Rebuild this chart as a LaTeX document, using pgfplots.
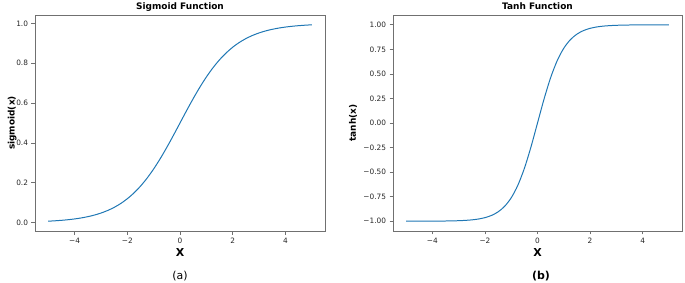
\documentclass[border=0pt]{standalone}
\usepackage{pgfplots}
\pgfplotsset{compat=1.18}
\usepackage{fontspec}
\setmainfont{DejaVu Sans}
\definecolor{mplblue}{HTML}{1F77B4}
\definecolor{framec}{HTML}{707070}
\pgfplotsset{
  every axis title/.style={font=\bfseries\fontsize{9}{10}\selectfont, at={(0.5,1)}, anchor=base, inner sep=0pt, yshift=5.3bp},
  mpl/.style={
    scale only axis,
    axis line style={framec, line width=0.8pt},
    tick style={framec, line width=0.7pt},
    tick align=outside,
    major tick length=3.5bp,
    xtick pos=bottom, ytick pos=left,
    ticklabel style={font=\fontsize{7.4}{8}\selectfont, text=black!85},
    xlabel style={font=\bfseries\fontsize{11}{12}\selectfont, at={(axis description cs:0.5,0)}, anchor=center, yshift=-22bp},
    ylabel style={font=\bfseries\fontsize{9}{10}\selectfont, anchor=center},
    xmin=-5.5, xmax=5.5,
    xtick={-4,-2,0,2,4},
    xticklabels={−4,−2,0,2,4},
  }
}
\begin{document}
\begin{tikzpicture}
\path[use as bounding box] (0bp,0bp) rectangle (685bp,283bp);
\begin{axis}[mpl, at={(35bp,52bp)}, anchor=south west, width=290bp, height=216bp,
  ymin=-0.0426, ymax=1.0426,
  ytick={0,0.2,0.4,0.6,0.8,1.0},
  yticklabels={0.0,0.2,0.4,0.6,0.8,1.0},
  title={Sigmoid Function}, xlabel={X}, ylabel={sigmoid(x)},
  ylabel style={at={(axis description cs:-0.079,0.5)}}]
\addplot[mplblue, line width=1pt, smooth] coordinates {
(-5,0.006693)(-4.75,0.008577)(-4.5,0.010987)(-4.25,0.014064)(-4,0.017986)
(-3.75,0.022977)(-3.5,0.029312)(-3.25,0.037327)(-3,0.047426)(-2.75,0.060087)
(-2.5,0.075858)(-2.25,0.095349)(-2,0.119203)(-1.75,0.148047)(-1.5,0.182426)
(-1.25,0.222700)(-1,0.268941)(-0.75,0.320821)(-0.5,0.377541)(-0.25,0.437823)
(0,0.5)
(0.25,0.562177)(0.5,0.622459)(0.75,0.679179)(1,0.731059)(1.25,0.777300)
(1.5,0.817574)(1.75,0.851953)(2,0.880797)(2.25,0.904651)(2.5,0.924142)
(2.75,0.939913)(3,0.952574)(3.25,0.962673)(3.5,0.970688)(3.75,0.977023)
(4,0.982014)(4.25,0.985936)(4.5,0.989013)(4.75,0.991423)(5,0.993307)
};
\end{axis}
\node[font=\fontsize{11}{12}\selectfont] at (180bp,7bp) {(a)};
\begin{axis}[mpl, at={(393bp,52bp)}, anchor=south west, width=289bp, height=216bp,
  ymin=-1.1, ymax=1.1,
  ytick={-1,-0.75,-0.5,-0.25,0,0.25,0.5,0.75,1},
  yticklabels={−1.00,−0.75,−0.50,−0.25,0.00,0.25,0.50,0.75,1.00},
  title={Tanh Function}, xlabel={X}, ylabel={tanh(x)},
  ylabel style={at={(axis description cs:-0.138,0.5)}}]
\addplot[mplblue, line width=1pt, smooth] coordinates {
(-5,-0.999909)(-4.75,-0.999850)(-4.5,-0.999753)(-4.25,-0.999593)(-4,-0.999329)
(-3.75,-0.998894)(-3.5,-0.998178)(-3.25,-0.996998)(-3,-0.995055)(-2.75,-0.991815)
(-2.5,-0.986614)(-2.25,-0.978026)(-2,-0.964028)(-1.75,-0.941376)(-1.5,-0.905148)
(-1.25,-0.848284)(-1,-0.761594)(-0.75,-0.635149)(-0.5,-0.462117)(-0.25,-0.244919)
(0,0)
(0.25,0.244919)(0.5,0.462117)(0.75,0.635149)(1,0.761594)(1.25,0.848284)
(1.5,0.905148)(1.75,0.941376)(2,0.964028)(2.25,0.978026)(2.5,0.986614)
(2.75,0.991815)(3,0.995055)(3.25,0.996998)(3.5,0.998178)(3.75,0.998894)
(4,0.999329)(4.25,0.999593)(4.5,0.999753)(4.75,0.999850)(5,0.999909)
};
\end{axis}
\node[font=\bfseries\fontsize{11}{12}\selectfont] at (541bp,7bp) {(b)};
\end{tikzpicture}
\end{document}
